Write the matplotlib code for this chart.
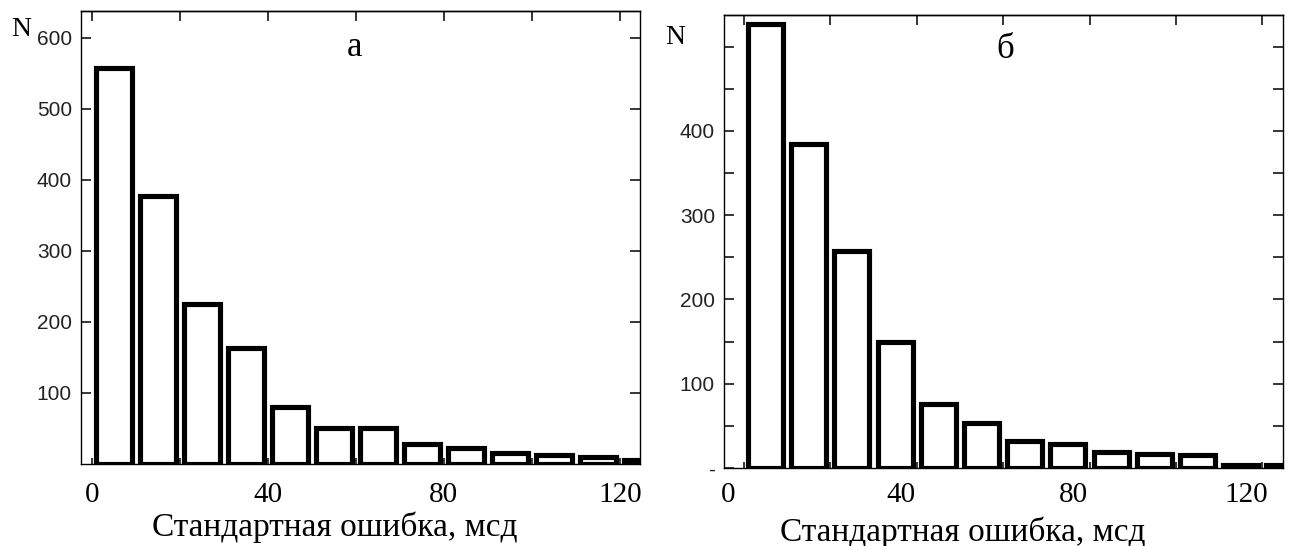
import matplotlib
matplotlib.use("Agg")
import matplotlib.pyplot as plt
from matplotlib.transforms import ScaledTranslation

# bin centres (мсд) and counts
centers = [5, 15, 25, 35, 45, 55, 65, 75, 85, 95, 105, 115, 125]
counts_a = [558, 378, 225, 163, 80, 50, 50, 28, 22, 15, 12, 10, 5]
counts_b = [527, 384, 258, 150, 76, 53, 32, 28, 19, 17, 15, 4, 4]

xtick_pos = [0, 20, 40, 60, 80, 100, 120]
xtick_lab = ["0", "", "40", "", "80", "", "120"]
ytick_a = [100, 200, 300, 400, 500, 600]
ytick_b = [0, 50, 100, 150, 200, 250, 300, 350, 400, 450, 500]
ylab_b = ["-", "", "100", "", "200", "", "300", "", "400", "", ""]

xlabel = "Стандартная ошибка, мсд"

W, H = 1293, 546
SERIF = ["Liberation Serif", "DejaVu Serif"]
NARROW = ["Liberation Sans Narrow", "Liberation Sans", "DejaVu Sans"]

fig = plt.figure(figsize=(W / 100, H / 100), dpi=100)


def px(x, y):
    return x / W, 1 - y / H


def draw_panel(rect, counts, xlim, ylim, yticks, ylabels, xpad, xshift):
    ax = fig.add_axes(rect)
    ax.bar(centers, counts, width=8.1, color="white", edgecolor="black",
           linewidth=3.7, zorder=2)
    ax.set_xlim(*xlim)
    ax.set_ylim(*ylim)
    for s in ax.spines.values():
        s.set_linewidth(1.0)

    ax.set_xticks(xtick_pos)
    ax.set_xticklabels(xtick_lab)
    ax.tick_params(axis="x", direction="in", length=4, width=1.1, pad=xpad)
    ax.set_yticks(yticks)
    ax.set_yticklabels(ylabels)
    ax.tick_params(axis="y", direction="in", length=7.5, width=1.1,
                   left=True, right=True, pad=6.5)
    for lab in ax.get_xticklabels():
        lab.set_fontfamily(SERIF)
        lab.set_fontsize(21)
    for lab in ax.get_yticklabels():
        lab.set_fontfamily(NARROW)
        lab.set_fontsize(15)
        lab.set_color("#222222")

    # longer ticks along the top edge
    top = ax.secondary_xaxis("top")
    top.set_xticks(xtick_pos)
    top.set_xticklabels([])
    top.tick_params(direction="in", length=7.5, width=1.1)
    top.spines["top"].set_linewidth(1.0)

    if xshift:
        off = ScaledTranslation(xshift / 100, 0, fig.dpi_scale_trans)
        for lab in ax.get_xticklabels():
            lab.set_transform(lab.get_transform() + off)
    return ax


ax_a = draw_panel([81 / W, (H - 464) / H, 559 / W, 453 / H], counts_a,
                  (-2.43, 124.6), (0, 638), ytick_a,
                  [str(v) for v in ytick_a], 13, 0)
ax_b = draw_panel([724 / W, (H - 468) / H, 559 / W, 453.3 / H], counts_b,
                  (-4.63, 124.8), (0, 538), ytick_b, ylab_b, 10, -16)

# panel letters, axis names
fig.text(*px(355, 47), "а", family=SERIF, fontsize=25, ha="center", va="center")
fig.text(*px(1005, 50), "б", family=SERIF, fontsize=25, ha="center", va="center")
fig.text(*px(21, 30), "N", family=SERIF, fontsize=20, ha="center", va="center")
fig.text(*px(675, 38), "N", family=SERIF, fontsize=20, ha="center", va="center")
fig.text(*px(335, 536), xlabel, family=SERIF, fontsize=24, ha="center",
         va="baseline")
fig.text(*px(963, 541), xlabel, family=SERIF, fontsize=24, ha="center",
         va="baseline")

fig.savefig("out.png", dpi=100, facecolor="white")
